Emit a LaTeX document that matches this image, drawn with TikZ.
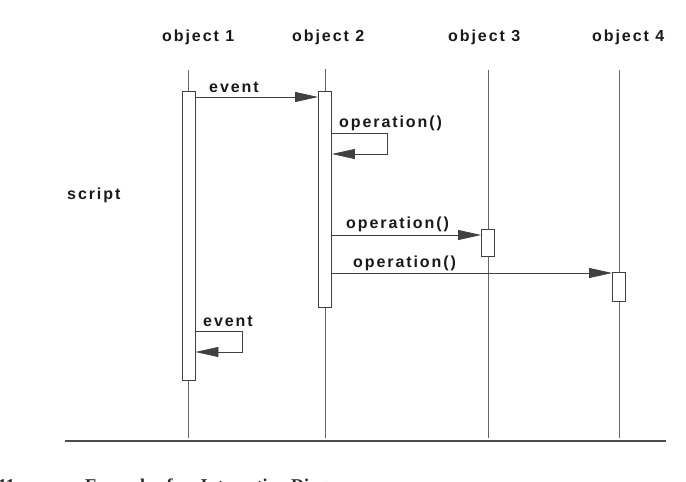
\documentclass[tikz,border=0pt]{standalone}
\usepackage{fontspec}
\setmainfont{Liberation Serif}
\newfontfamily\lblfont[LetterSpace=12]{Liberation Sans Bold}
\usetikzlibrary{arrows.meta}
\begin{document}
\begin{tikzpicture}[x=1pt,y=-1pt,
  lbl/.style={font=\lblfont\fontsize{16}{19}\selectfont, inner sep=0pt, anchor=base west, text=black!90},
  captxt/.style={font=\bfseries\fontsize{18}{22}\selectfont, inner sep=0pt, text=black!85},
  act/.style={draw=black!75, fill=white, line width=0.8pt, minimum width=13pt, inner sep=0pt, anchor=north},
  life/.style={draw=black!60, line width=0.7pt},
  msg/.style={draw=black!75, line width=0.8pt, -{Triangle[length=23pt,width=10pt]}},
  baseln/.style={draw=black!70, line width=1.2pt},
]
\useasboundingbox (0,0) rectangle (686,482);
\clip (0,0) rectangle (686,482);

% headers
\node[lbl] (h1) at (162,41) {object 1};
\node[lbl] (h2) at (292,41) {object 2};
\node[lbl] (h3) at (448,41) {object 3};
\node[lbl] (h4) at (592,41) {object 4};
\node[lbl] (scr) at (67,199) {script};

% lifelines
\coordinate (t1) at (188.5,70); \coordinate (b1) at (188.5,438);
\coordinate (t2) at (325,69);   \coordinate (b2) at (325,438);
\coordinate (t3) at (488,70);   \coordinate (b3) at (488,438);
\coordinate (t4) at (619,70);   \coordinate (b4) at (619,438);
\draw[life] (t1) -- (b1);
\draw[life] (t2) -- (b2);
\draw[life] (t3) -- (b3);
\draw[life] (t4) -- (b4);

% activation boxes
\node[act, minimum height=289pt] (a1) at (188.5,91) {};
\node[act, minimum height=216pt] (a2) at (325,91) {};
\node[act, minimum height=27pt]  (a3) at (488,229) {};
\node[act, minimum height=29pt]  (a4) at (619,272) {};

% message levels
\coordinate (y1) at (0,97);
\coordinate (y2) at (0,133);
\coordinate (y3) at (0,154);
\coordinate (y4) at (0,235);
\coordinate (y5) at (0,273);
\coordinate (y6) at (0,331);
\coordinate (y7) at (0,352);

% messages
\draw[msg] (a1.east |- y1) -- (a2.west |- y1);
\node[lbl] (l1) at (209,92) {event};

\draw[msg] (a2.east |- y2) -- ++(55,0) |- (a2.east |- y3);
\node[lbl] (l2) at (339,127) {operation()};

\draw[msg] (a2.east |- y4) -- (a3.west |- y4);
\node[lbl] (l3) at (346,228) {operation()};

\draw[msg] (a2.east |- y5) -- (a4.west |- y5);
\node[lbl] (l4) at (353,267) {operation()};

\draw[msg] (a1.east |- y6) -- ++(47,0) |- (a1.east |- y7);
\node[lbl] (l5) at (203,326) {event};

% base line
\coordinate (bl) at (65,441);
\coordinate (br) at (666,441);
\draw[baseln] (bl) -- (br);

% caption (cut off at the bottom edge, as in the reference)
\node[captxt, anchor=base east] (c1) at (15,491) {11};
\node[captxt, anchor=base west] (c2) at (85,491) {Example of an Interaction Diagram};
\end{tikzpicture}
\end{document}
